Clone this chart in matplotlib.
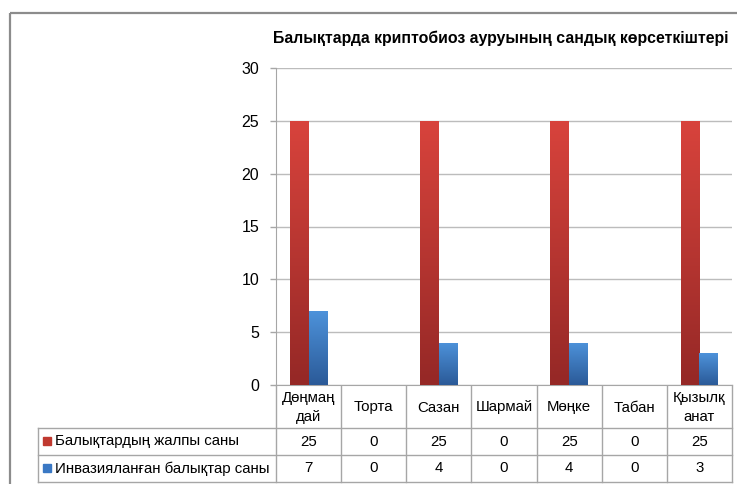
import numpy as np
import matplotlib.pyplot as plt
from matplotlib.colors import LinearSegmentedColormap
from matplotlib.patches import Rectangle

plt.rcParams['font.family'] = ['Liberation Sans', 'DejaVu Sans']

# --- data ---
categories = ['Дөңмаң\nдай', 'Торта', 'Сазан', 'Шармай', 'Мөңке', 'Табан', 'Қызылқ\nанат']
series_names = ['Балықтардың жалпы саны', 'Инвазияланған балықтар саны']
total_fish = [25, 0, 25, 0, 25, 0, 25]
infected_fish = [7, 0, 4, 0, 4, 0, 3]
y_ticks = [0, 5, 10, 15, 20, 25, 30]
title = 'Балықтарда криптобиоз ауруының сандық көрсеткіштері'

# --- layout (pixels) ---
W, H = 737, 484
PX0, PX1, PY0, PY1 = 276, 732, 68, 385
ROW_Y = [385, 428, 455, 482]
LABEL_X = 38
GRID_C = '#bcbcbc'
LINE_C = '#a6a6a6'
FS = 10.8

red_cm = LinearSegmentedColormap.from_list('r', ['#d8433c', '#952826'])
blue_cm = LinearSegmentedColormap.from_list('b', ['#4d92da', '#2b5a98'])
series_colors = ['#c0392f', '#3a78c4']

fig = plt.figure(figsize=(W / 100, H / 100), dpi=100)

# background overlay in pixel coords
bg = fig.add_axes([0, 0, 1, 1])
bg.set_xlim(0, W)
bg.set_ylim(H, 0)
bg.axis('off')
bg.add_patch(Rectangle((10, 13), W + 20, H + 20, fill=False, edgecolor='#8c8c8c', lw=1.6))
bg.text(501, 38, title, ha='center', va='center', fontsize=11.4, fontweight='bold')

ax = fig.add_axes([PX0 / W, 1 - PY1 / H, (PX1 - PX0) / W, (PY1 - PY0) / H])
n = len(categories)
x = np.arange(n)
bw = 0.29
for s in ['top', 'right']:
    ax.spines[s].set_visible(False)
ax.spines['left'].set_color(LINE_C)
ax.spines['bottom'].set_color(LINE_C)
ax.set_yticks(y_ticks)
ax.set_xticks([])
ax.tick_params(axis='y', length=4, width=1, color=LINE_C, pad=8, labelsize=11.5)
ax.yaxis.grid(True, color=GRID_C, lw=1)
ax.set_axisbelow(True)

grad = np.linspace(0, 1, 100).reshape(-1, 1)
for vals, off, cm in [(total_fish, -bw / 2, red_cm), (infected_fish, bw / 2, blue_cm)]:
    bars = ax.bar(x + off, vals, width=bw, color='none', edgecolor='none', zorder=3)
    for b in bars:
        if b.get_height() <= 0:
            continue
        x0, w, h = b.get_x(), b.get_width(), b.get_height()
        im = ax.imshow(grad, cmap=cm, aspect='auto', extent=(x0, x0 + w, 0, h),
                       origin='upper', zorder=3)
        im.set_clip_path(b)
ax.set_xlim(-0.5, n - 0.5)
ax.set_ylim(0, 30)

# --- data table ---
cw = (PX1 - PX0) / n
col_edges = [PX0 + i * cw for i in range(n + 1)]
for cx in col_edges:
    bg.plot([cx, cx], [ROW_Y[0], ROW_Y[-1]], color=LINE_C, lw=1)
bg.plot([LABEL_X, LABEL_X], [ROW_Y[1], ROW_Y[-1]], color=LINE_C, lw=1)
for ry in ROW_Y[1:]:
    bg.plot([LABEL_X, PX1], [ry, ry], color=LINE_C, lw=1)

for i, cat in enumerate(categories):
    cx = (col_edges[i] + col_edges[i + 1]) / 2
    bg.text(cx, (ROW_Y[0] + ROW_Y[1]) / 2 + 1, cat, ha='center', va='center',
            fontsize=FS, linespacing=1.45)

for r, (name, vals, col) in enumerate(zip(series_names, [total_fish, infected_fish], series_colors)):
    cy = (ROW_Y[r + 1] + ROW_Y[r + 2]) / 2
    bg.add_patch(Rectangle((43, cy - 4.5), 8, 8, color=col))
    bg.text(55, cy, name, ha='left', va='center', fontsize=FS)
    for i, v in enumerate(vals):
        cx = (col_edges[i] + col_edges[i + 1]) / 2
        bg.text(cx, cy, str(v), ha='center', va='center', fontsize=FS)

fig.savefig('out.png', dpi=100)
